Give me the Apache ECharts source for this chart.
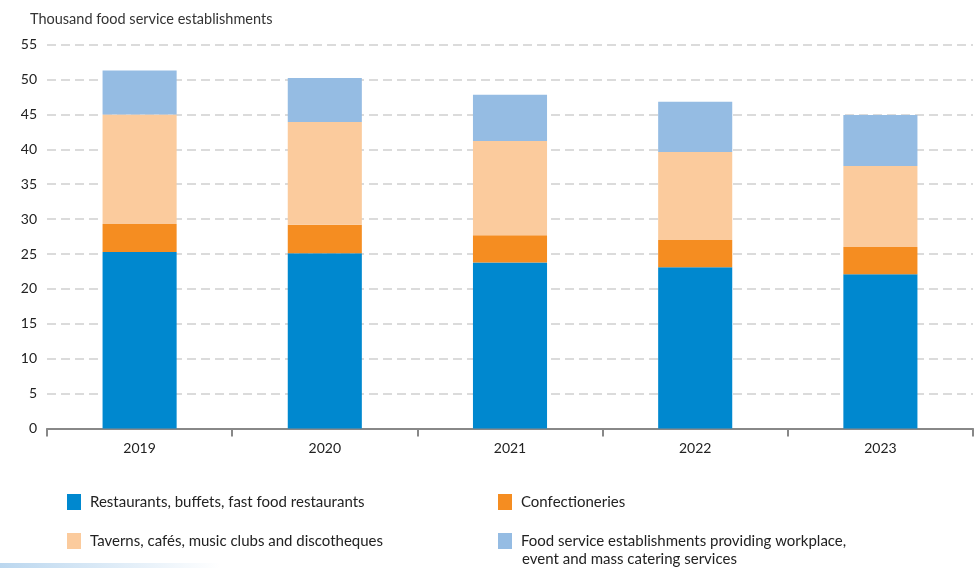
<!DOCTYPE html>
<html>
<head>
<meta charset="utf-8">
<script src="https://cdn.jsdelivr.net/npm/echarts@6/dist/echarts.min.js"></script>
<style>
html,body{margin:0;padding:0;background:#fff;}
#chart{width:980px;height:568px;}
</style>
</head>
<body>
<div id="chart"></div>
<script>
var years = ['2019', '2020', '2021', '2022', '2023'];
var restaurants = [25.3, 25.1, 23.8, 23.1, 22.1];
var confectioneries = [4.0, 4.1, 3.9, 3.9, 3.9];
var taverns = [15.7, 14.7, 13.5, 12.6, 11.6];
var catering = [6.3, 6.3, 6.6, 7.2, 7.3];
var yTicks = [0, 5, 10, 15, 20, 25, 30, 35, 40, 45, 50, 55];
var seriesNames = [
  'Restaurants, buffets, fast food restaurants',
  'Confectioneries',
  'Taverns, cafés, music clubs and discotheques',
  'Food service establishments providing workplace,\nevent and mass catering services'
];
var yTitle = 'Thousand food service establishments';

var FONT = 'Lato';
var colors = ['#0088cf', '#f58d21', '#fbcb9d', '#95bce3'];
var dataSets = [restaurants, confectioneries, taverns, catering];

var chart = echarts.init(document.getElementById('chart'), null, {renderer: 'canvas'});
var series = dataSets.map(function (d, i) {
  return {
    name: seriesNames[i],
    type: 'bar',
    stack: 'total',
    data: d,
    barWidth: '40%',
    itemStyle: {color: colors[i]},
    emphasis: {disabled: true}
  };
});

var legendPos = [
  {left: 67, top: 494},
  {left: 498, top: 494},
  {left: 67, top: 533},
  {left: 498, top: 533}
];
var legends = seriesNames.map(function (n, i) {
  return {
    data: [n],
    left: legendPos[i].left,
    top: legendPos[i].top,
    padding: 0,
    icon: 'rect',
    itemWidth: 14,
    itemHeight: 16,
    itemGap: 0,
    selectedMode: false,
    formatter: function (name) { return name.split('\n')[0]; },
    textStyle: {fontFamily: FONT, fontSize: 15, color: '#222', padding: [0, 0, 0, 4]}
  };
});

var option = {
  animation: false,
  backgroundColor: '#fff',
  textStyle: {fontFamily: FONT},
  title: {
    text: yTitle,
    left: 25,
    top: 7,
    textStyle: {fontFamily: FONT, fontSize: 14.5, fontWeight: 'normal', color: '#333'}
  },
  legend: legends,
  grid: {left: 47, right: 7, top: 44.6, bottom: 139.5, containLabel: false},
  xAxis: {
    type: 'category',
    data: years,
    axisLine: {lineStyle: {color: '#888', width: 2}},
    axisTick: {show: true, length: 8, lineStyle: {color: '#888', width: 2}},
    axisLabel: {fontFamily: FONT, fontSize: 14, color: '#222', margin: 13}
  },
  yAxis: {
    type: 'value',
    min: yTicks[0],
    max: yTicks[yTicks.length - 1],
    interval: 5,
    axisLine: {show: false},
    axisTick: {show: false},
    axisLabel: {fontFamily: FONT, fontSize: 14, color: '#222', margin: 10},
    splitLine: {lineStyle: {color: '#d0d0d0', width: 1.5, type: [9, 5]}}
  },
  graphic: [
    {
      type: 'text',
      left: 522,
      top: 552,
      style: {text: seriesNames[3].split('\n')[1], fontFamily: FONT, fontSize: 15, fill: '#222'}
    },
    {
      type: 'rect',
      left: 0,
      top: 563,
      shape: {width: 220, height: 5},
      style: {
        fill: new echarts.graphic.LinearGradient(0, 0, 1, 0, [
          {offset: 0, color: 'rgba(170,205,235,0.8)'},
          {offset: 1, color: 'rgba(170,205,235,0)'}
        ])
      },
      silent: true
    }
  ],
  series: series
};
chart.setOption(option);
</script>
</body>
</html>
